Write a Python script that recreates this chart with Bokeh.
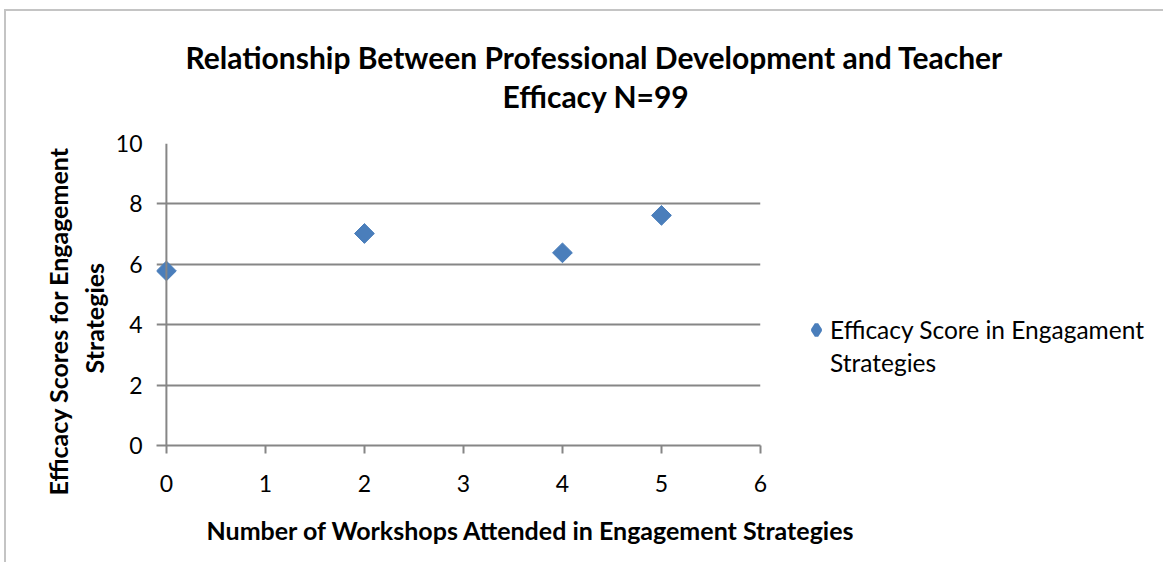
import numpy as np
from bokeh.plotting import figure
from bokeh.models import Range1d, Legend, LegendItem, ColumnDataSource, FixedTicker, Span, Title
from bokeh.embed import file_html
from bokeh.resources import INLINE

# Data
workshops = [0, 2, 4, 5]
efficacy = [5.78, 7.02, 6.38, 7.62]
x_ticks = [0, 1, 2, 3, 4, 5, 6]
y_ticks = [0, 2, 4, 6, 8, 10]
series_name = ["Efficacy Score in Engagament", "Strategies"]
title_lines = ["Relationship Between Professional Development and Teacher", "Efficacy N=99"]
x_label = "Number of Workshops Attended in Engagement Strategies"
y_label_lines = ["Efficacy Scores for Engagement", "Strategies"]

FONT = "Lato"
GRID = "#868686"
BLUE = "#4A7EBB"

p = figure(frame_width=604, frame_height=302, x_range=Range1d(-0.1, 6), y_range=Range1d(0, 10),
           output_backend="svg", toolbar_location=None,
           min_border_left=150, min_border_right=396, min_border_top=132, min_border_bottom=100)
p.outline_line_color = None
p.background_fill_color = "white"
p.border_fill_color = "white"
p.styles = {"border-top": "2px solid #c4c4c4", "border-left": "2px solid #c4c4c4",
            "margin-left": "4px", "margin-top": "9px"}

src = ColumnDataSource(dict(x=workshops, y=efficacy))
# small diamond renderer (hidden under the rotated squares) supplies the legend glyph
r_leg = p.scatter("x", "y", source=src, marker="diamond", size=6, line_width=4,
                  fill_color=BLUE, line_color=BLUE)
r = p.scatter("x", "y", source=src, marker="square", angle=np.pi / 4, size=14,
              fill_color=BLUE, line_color=BLUE)

p.xgrid.visible = False
p.ygrid.grid_line_color = GRID
p.ygrid.grid_line_width = 2
p.add_layout(Span(location=0, dimension="height", line_color=GRID, line_width=2))
p.xaxis.ticker = FixedTicker(ticks=x_ticks)
p.yaxis.ticker = FixedTicker(ticks=y_ticks)
for ax in (p.xaxis[0], p.yaxis[0]):
    ax.axis_line_color = GRID
    ax.axis_line_width = 2
    ax.major_tick_line_color = GRID
    ax.major_tick_line_width = 2
    ax.major_tick_in = 0
    ax.major_tick_out = 8
    ax.minor_tick_line_color = None
    ax.major_label_text_font = FONT
    ax.major_label_text_font_size = "23px"
    ax.major_label_text_color = "black"
p.yaxis.axis_line_color = None
p.yaxis.major_tick_line_color = None
p.yaxis.major_tick_out = 0
p.xaxis.major_label_standoff = 21
p.yaxis.major_label_standoff = 14

def title(text, side, size, align="left", offset=0, standoff=10):
    p.add_layout(Title(text=text, text_font=FONT, text_font_size=size, text_font_style="bold",
                       align=align, offset=offset, standoff=standoff, text_color="black"), side)

title(title_lines[1], "above", "30px", offset=346, standoff=59)
title(title_lines[0], "above", "30px", offset=29, standoff=-57)
title(x_label, "below", "25px", offset=50, standoff=37)
title(y_label_lines[1], "left", "25px", offset=72, standoff=8)
title(y_label_lines[0], "left", "25px", offset=-50, standoff=0)

legend = Legend(items=[LegendItem(label=series_name[0], renderers=[r_leg]),
                       LegendItem(label=series_name[1], renderers=[])],
                location=(42, 66), border_line_color=None, background_fill_alpha=0,
                padding=0, margin=0, spacing=0, glyph_width=28, glyph_height=33,
                label_standoff=0, label_text_font=FONT, label_text_font_size="24.5px",
                label_text_color="black")
p.add_layout(legend, "right")

open("out.html", "w").write(file_html(p, INLINE))
